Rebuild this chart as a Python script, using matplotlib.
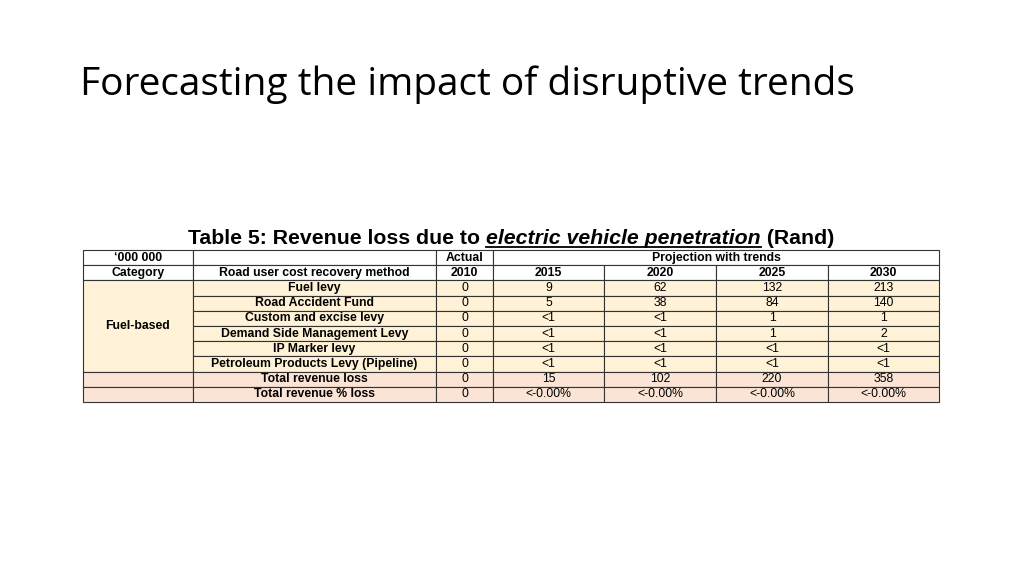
import matplotlib
matplotlib.use("Agg")
import matplotlib.pyplot as plt
from matplotlib.patches import Rectangle

title = "Forecasting the impact of disruptive trends"
caption_parts = ["Table 5: Revenue loss due to ", "electric vehicle penetration", " (Rand)"]
methods = ["Fuel levy", "Road Accident Fund", "Custom and excise levy",
           "Demand Side Management Levy", "IP Marker levy",
           "Petroleum Products Levy (Pipeline)"]
totals = ["Total revenue loss", "Total revenue % loss"]
years = ["2010", "2015", "2020", "2025", "2030"]
values = [
    ["0", "9", "62", "132", "213"],
    ["0", "5", "38", "84", "140"],
    ["0", "<1", "<1", "1", "1"],
    ["0", "<1", "<1", "1", "2"],
    ["0", "<1", "<1", "<1", "<1"],
    ["0", "<1", "<1", "<1", "<1"],
]
total_values = [
    ["0", "15", "102", "220", "358"],
    ["0", "<-0.00%", "<-0.00%", "<-0.00%", "<-0.00%"],
]

fig = plt.figure(figsize=(10.24, 5.76), dpi=100)
ax = fig.add_axes([0, 0, 1, 1])
ax.set_xlim(0, 1024); ax.set_ylim(576, 0); ax.axis("off")

ax.text(80, 85, title, fontsize=28, family="Open Sans", va="center", ha="left", color="#000000")

xs = [83, 193, 436, 493, 604, 716, 828, 939]
y0, rh = 250, 15.2
ys = [y0 + i * rh for i in range(11)]
yellow, pink = "#FFF2D6", "#FBE4D6"
fs = 8.8
bold = dict(fontsize=fs, fontweight="bold", family="Liberation Sans", ha="center", va="center")
norm = dict(fontsize=fs, family="Liberation Sans", ha="center", va="center")

def cell(x0, x1, r0, r1, color="white"):
    ax.add_patch(Rectangle((x0, ys[r0]), x1 - x0, ys[r1] - ys[r0], facecolor=color,
                           edgecolor="#333333", lw=0.8))

def cx(i, j=None):
    j = i + 1 if j is None else j
    return (xs[i] + xs[j]) / 2

def cy(r0, r1=None):
    r1 = r0 + 1 if r1 is None else r1
    return (ys[r0] + ys[r1]) / 2

cell(xs[0], xs[1], 0, 1); cell(xs[1], xs[2], 0, 1); cell(xs[2], xs[3], 0, 1); cell(xs[3], xs[7], 0, 1)
ax.text(cx(0), cy(0), "\u2018000 000", **bold)
ax.text(cx(2), cy(0), "Actual", **bold)
ax.text(cx(3, 7), cy(0), "Projection with trends", **bold)
for i in range(7):
    cell(xs[i], xs[i + 1], 1, 2)
ax.text(cx(0), cy(1), "Category", **bold)
ax.text(cx(1), cy(1), "Road user cost recovery method", **bold)
for k, yr in enumerate(years):
    ax.text(cx(k + 2), cy(1), yr, **bold)

cell(xs[0], xs[1], 2, 8, yellow)
ax.text(cx(0), cy(2, 8), "Fuel-based", **bold)
for r, (m, vals) in enumerate(zip(methods, values)):
    row = r + 2
    cell(xs[1], xs[2], row, row + 1, yellow)
    ax.text(cx(1), cy(row), m, **bold)
    for k, v in enumerate(vals):
        cell(xs[k + 2], xs[k + 3], row, row + 1, yellow)
        ax.text(cx(k + 2), cy(row), v, **norm)

for r, (t, vals) in enumerate(zip(totals, total_values)):
    row = r + 8
    cell(xs[0], xs[1], row, row + 1, pink)
    cell(xs[1], xs[2], row, row + 1, pink)
    ax.text(cx(1), cy(row), t, **bold)
    for k, v in enumerate(vals):
        cell(xs[k + 2], xs[k + 3], row, row + 1, pink)
        ax.text(cx(k + 2), cy(row), v, **norm)

fig.canvas.draw()
r = fig.canvas.get_renderer()
styles = [dict(), dict(style="italic"), dict()]
cfs = 15.3
widths = []
for part, st in zip(caption_parts, styles):
    t = ax.text(0, -100, part, fontsize=cfs, fontweight="bold", family="Liberation Sans", **st)
    widths.append(t.get_window_extent(r).width)
    t.remove()
x = 511 - sum(widths) / 2
for part, st, w in zip(caption_parts, styles, widths):
    ax.text(x, 238, part, fontsize=cfs, fontweight="bold", family="Liberation Sans",
            ha="left", va="center", **st)
    if st:
        ax.plot([x, x + w], [247, 247], color="black", lw=1.3)
    x += w

fig.savefig("out.png", dpi=100)
